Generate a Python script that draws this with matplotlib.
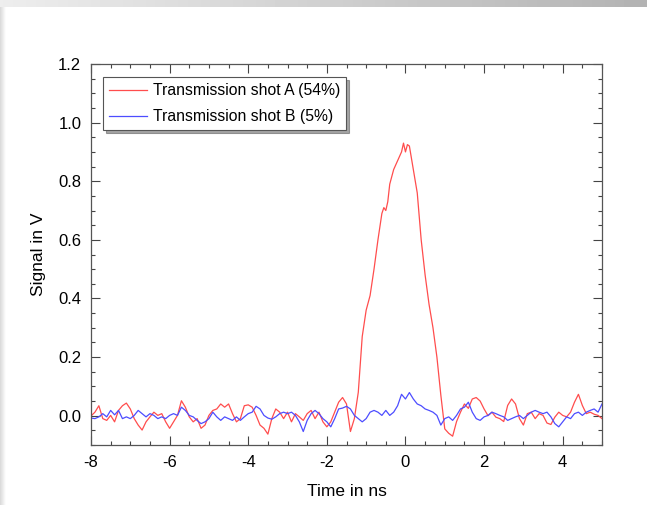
import numpy as np
import matplotlib
matplotlib.use("Agg")
import matplotlib.pyplot as plt
from matplotlib.ticker import MultipleLocator, FormatStrFormatter

plt.rcParams['font.family'] = ['Liberation Sans', 'DejaVu Sans']
plt.rcParams['axes.unicode_minus'] = False

# shot A: baseline before pulse (-8.0 .. -1.3, step 0.1)
a_pre = [-0.001, 0.012, 0.034, -0.010, -0.016, 0.001, -0.021, 0.018, 0.034, 0.043,
         0.023, -0.010, -0.032, -0.049, -0.021, -0.004, 0.012, 0.001, 0.007, -0.021,
         -0.043, -0.021, 0.001, 0.051, 0.029, -0.004, -0.021, -0.010, -0.043, -0.032,
         0.001, 0.018, 0.023, 0.040, 0.029, 0.040, 0.007, -0.021, -0.010, 0.034,
         0.037, 0.029, 0.001, -0.032, -0.043, -0.063, -0.010, 0.023, 0.012, -0.010,
         0.012, -0.021, 0.007, -0.004, -0.016, 0.007, 0.018, -0.010, 0.012, -0.021,
         -0.038, -0.021, 0.012, 0.046, 0.062, 0.040, -0.054, -0.010]
# shot A: pulse
a_pulse_t = [-1.2, -1.1, -1.0, -0.9, -0.8, -0.7, -0.6, -0.55, -0.5, -0.45, -0.4, -0.3,
             -0.2, -0.1, -0.05, 0.0, 0.05, 0.1, 0.15, 0.2, 0.3, 0.4, 0.5, 0.6, 0.7,
             0.8, 0.9]
a_pulse = [0.08, 0.27, 0.36, 0.41, 0.50, 0.60, 0.69, 0.71, 0.70, 0.73, 0.79, 0.84,
           0.87, 0.90, 0.93, 0.90, 0.925, 0.92, 0.88, 0.84, 0.76, 0.60, 0.48, 0.38,
           0.30, 0.20, 0.07]
# shot A: after pulse (1.0 .. 5.0, step 0.1)
a_post = [-0.045, -0.060, -0.070, -0.020, 0.012, 0.040, 0.025, 0.057, 0.062, 0.050,
          0.023, 0.000, 0.012, -0.005, -0.010, -0.020, 0.035, 0.057, 0.040, -0.010,
          -0.032, 0.007, 0.012, -0.010, 0.007, 0.001, -0.025, -0.030, -0.005, 0.012,
          0.001, -0.004, 0.012, 0.046, 0.073, 0.035, 0.007, 0.012, 0.005, 0.001,
          -0.010]

# shot B (-8.0 .. 5.0, step 0.1)
b_sig = [-0.008, -0.010, -0.004, 0.007, -0.004, 0.018, 0.003, 0.018, -0.010, -0.004,
         -0.010, 0.001, 0.018, 0.007, -0.004, 0.007, 0.001, -0.010, -0.004, -0.010,
         0.001, 0.007, 0.001, 0.029, 0.018, 0.001, -0.004, -0.016, -0.027, -0.021,
         -0.010, 0.012, -0.004, -0.016, -0.004, -0.010, -0.016, -0.004, -0.016, -0.004,
         0.007, 0.012, 0.032, 0.023, 0.001, -0.008, -0.012, -0.004, 0.007, 0.012,
         0.007, 0.012, 0.001, -0.021, -0.054, -0.016, 0.007, 0.018, 0.007, -0.010,
         -0.021, -0.038, -0.010, 0.023, 0.026, 0.032, 0.023, 0.001, -0.010, -0.021,
         -0.010, 0.012, 0.018, 0.012, 0.001, 0.018, 0.001, 0.012, 0.034, 0.073,
         0.057, 0.079, 0.057, 0.040, 0.034, 0.023, 0.018, 0.012, 0.001, -0.032,
         -0.010, -0.004, -0.016, 0.001, 0.023, 0.029, 0.046, 0.012, -0.010, -0.016,
         -0.004, 0.001, 0.012, 0.007, 0.001, -0.004, -0.016, -0.010, -0.004, 0.001,
         -0.010, 0.001, 0.012, 0.018, 0.012, 0.007, 0.012, -0.004, -0.027, -0.038,
         -0.021, -0.004, -0.010, 0.007, 0.012, 0.001, 0.012, 0.018, 0.023, 0.012,
         0.040]

t_pre = np.round(np.arange(-8.0, -1.25, 0.1), 2)
t_post = np.round(np.arange(1.0, 5.01, 0.1), 2)
t_a = np.concatenate([t_pre, a_pulse_t, t_post])
sig_a = np.concatenate([a_pre, a_pulse, a_post])
t_b = np.round(np.arange(-8.0, 5.01, 0.1), 2)

fig = plt.figure(figsize=(6.47, 5.05), dpi=100)

# screenshot shadow strips at top and left
top = fig.add_axes([0, 1 - 7 / 505, 1, 7 / 505])
top.imshow(np.linspace(0.93, 0.70, 200)[None, :], cmap='gray', vmin=0, vmax=1,
           aspect='auto', extent=[0, 1, 0, 1])
top.axis('off')
left = fig.add_axes([0, 0, 6 / 647, 1 - 7 / 505])
left.imshow(np.linspace(0.85, 1.0, 20)[None, :], cmap='gray', vmin=0, vmax=1,
            aspect='auto', extent=[0, 1, 0, 1])
left.axis('off')

ax = fig.add_axes([91 / 647, 60 / 505, 511 / 647, 381 / 505])
ax.plot(t_a, sig_a, color='#ff4d4d', lw=0.9, label='Transmission shot A (54%)')
ax.plot(t_b, b_sig, color='#4d4dff', lw=0.9, label='Transmission shot B (5%)')

ax.set_xlim(-8, 5)
ax.set_ylim(-0.1, 1.2)
ax.xaxis.set_major_locator(MultipleLocator(2))
ax.xaxis.set_minor_locator(MultipleLocator(0.5))
ax.yaxis.set_major_locator(MultipleLocator(0.2))
ax.yaxis.set_minor_locator(MultipleLocator(0.05))
ax.yaxis.set_major_formatter(FormatStrFormatter('%.1f'))
ax.tick_params(which='both', direction='in', top=True, right=True,
               color='#444444', labelsize=12, pad=7)
ax.tick_params(which='major', length=6.5, width=0.8)
ax.tick_params(which='minor', length=3, width=0.8)
for s in ax.spines.values():
    s.set_color('#555555')
    s.set_linewidth(0.9)

ax.set_xlabel('Time in ns', fontsize=12.5, labelpad=10)
ax.set_ylabel('Signal in V', fontsize=12.5, labelpad=9)

leg = ax.legend(loc='upper left', bbox_to_anchor=(0.014, 0.977), fontsize=11.3,
                fancybox=False, shadow=True, handlelength=2.45, handletextpad=0.35,
                borderpad=0.38, borderaxespad=0.3, labelspacing=0.7, framealpha=1)
leg.get_frame().set_edgecolor('#555555')
leg.get_frame().set_linewidth(0.8)

fig.savefig('out.png', dpi=100)
